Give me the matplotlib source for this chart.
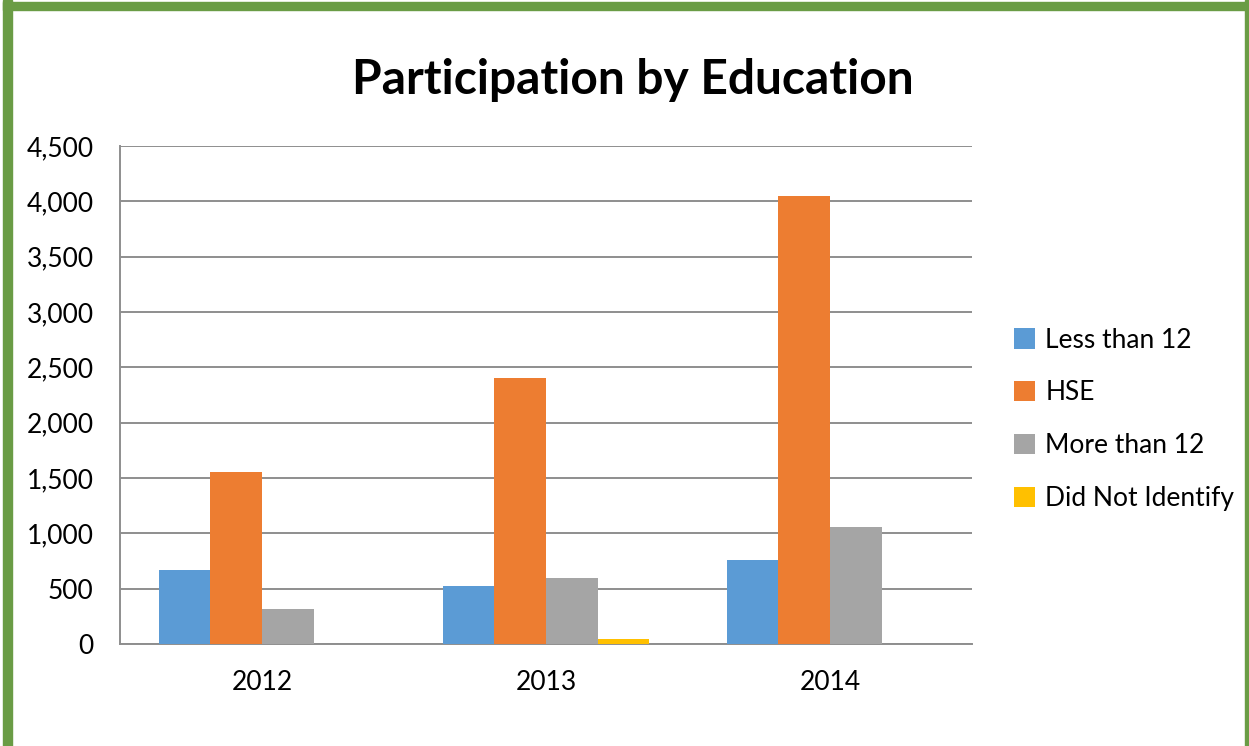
import matplotlib.pyplot as plt
import numpy as np
from matplotlib.patches import Rectangle

years = ["2012", "2013", "2014"]
series = ["Less than 12", "HSE", "More than 12", "Did Not Identify"]
less_than_12 = [670, 521, 761]
hse = [1552, 2400, 4045]
more_than_12 = [319, 597, 1053]
did_not_identify = [0, 48, 0]
colors = ["#5B9BD5", "#ED7D31", "#A5A5A5", "#FFC000"]

plt.rcParams["font.family"] = ["Lato", "DejaVu Sans"]

fig = plt.figure(figsize=(12.49, 7.46), dpi=100)
ax = fig.add_axes([120 / 1249, 102 / 746, 852 / 1249, 498 / 746])

x = np.arange(len(years))
w = 0.182
values = [less_than_12, hse, more_than_12, did_not_identify]
handles = []
for i, (name, vals) in enumerate(zip(series, values)):
    b = ax.bar(x + (i - 1.5) * w, vals, w, color=colors[i], label=name, zorder=3)
    handles.append(b)

ax.set_xlim(-0.5, 2.5)
ax.set_ylim(0, 4500)
ax.set_yticks(range(0, 4501, 500))
ax.set_yticklabels([f"{v:,}" for v in range(0, 4501, 500)])
ax.set_xticks(x)
ax.set_xticklabels(years)
ax.tick_params(axis="both", length=0, labelsize=19, colors="black")
ax.tick_params(axis="y", pad=19)
ax.tick_params(axis="x", pad=19)
ax.grid(axis="y", color="#8E8E8E", linewidth=1.4, zorder=0)
for s in ["top", "right"]:
    ax.spines[s].set_visible(False)
for s in ["left", "bottom"]:
    ax.spines[s].set_color("#8E8E8E")
    ax.spines[s].set_linewidth(1.4)

fig.text(0.507, 0.893, "Participation by Education", ha="center", va="center",
         fontsize=34.5, fontweight="bold")

fig.legend(handles=handles, labels=series, loc="upper left",
           bbox_to_anchor=(990 / 1249, 1 - 304 / 746), frameon=False,
           fontsize=19, handlelength=0.8, handleheight=0.8, handletextpad=0.4,
           labelspacing=1.05)

# green frame
green = "#6A9C45"
fig.patches.append(Rectangle((3 / 1249, 0), 9 / 1249, 1, transform=fig.transFigure, color=green))
fig.patches.append(Rectangle((1245 / 1249, 0), 4 / 1249, 1, transform=fig.transFigure, color=green))
fig.patches.append(Rectangle((3 / 1249, 1 - 10 / 746), 1246 / 1249, 8 / 746, transform=fig.transFigure, color=green))

fig.savefig("out.png", dpi=100)
